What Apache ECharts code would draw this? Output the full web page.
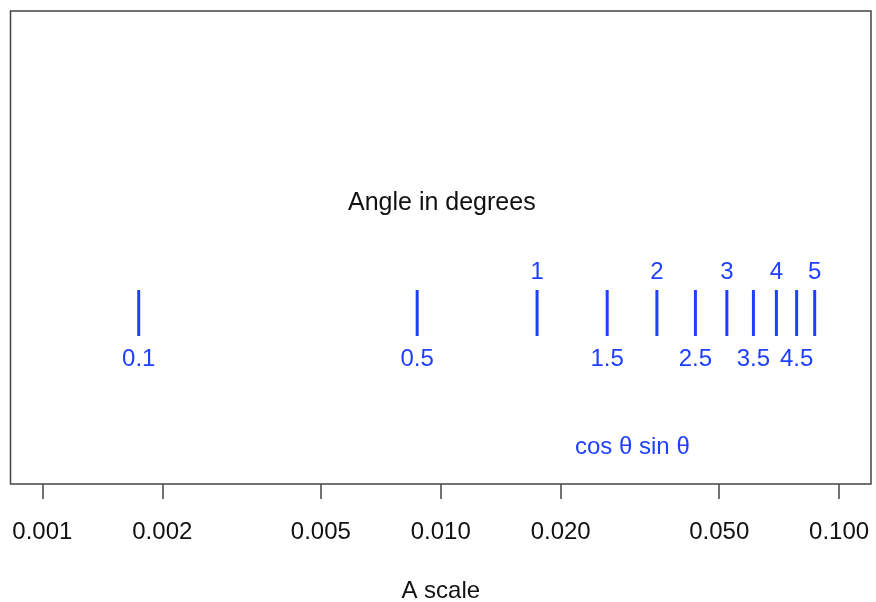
<!DOCTYPE html>
<html>
<head>
<meta charset="utf-8">
<script src="https://cdn.jsdelivr.net/npm/echarts@6/dist/echarts.min.js"></script>
<style>
html,body{margin:0;padding:0;background:#fff;}
#chart{width:876px;height:602px;}
</style>
</head>
<body>
<div id="chart"></div>
<script>
// Angles (degrees) and their A-scale values (cos θ sin θ)
const anglesUpper = ['1', '2', '3', '4', '5'];
const valuesUpper = [0.017450, 0.034878, 0.052264, 0.069587, 0.086824];
const anglesLower = ['0.1', '0.5', '1.5', '2.5', '3.5', '4.5'];
const valuesLower = [0.0017453, 0.0087262, 0.026168, 0.043578, 0.060935, 0.078217];
const tickValues = [0.001, 0.002, 0.005, 0.01, 0.02, 0.05, 0.1];
const tickLabels = ['0.001', '0.002', '0.005', '0.010', '0.020', '0.050', '0.100'];

const FONT = 'Liberation Sans, Arial, Helvetica, sans-serif';
const BLUE = '#1f3fff';
const MARK_Y = 0.3615;

const chart = echarts.init(document.getElementById('chart'), null, {renderer: 'canvas'});

function makeSeries(names, vals, pos) {
  return {
    type: 'scatter',
    symbol: 'rect',
    symbolSize: [3, 46],
    itemStyle: {color: BLUE, opacity: 1},
    silent: true,
    data: vals.map((v, i) => ({value: [v, MARK_Y], name: names[i]})),
    label: {
      show: true,
      position: pos,
      distance: pos === 'top' ? 6 : 11,
      formatter: p => p.name,
      color: BLUE,
      fontSize: 24,
      fontFamily: FONT
    }
  };
}

const option = {
  animation: false,
  backgroundColor: '#fff',
  grid: {
    left: 10.5, right: 5, top: 11, bottom: 118,
    outerBoundsMode: 'none',
    containLabel: false,
    show: true, borderColor: '#444', borderWidth: 1.5, backgroundColor: 'transparent'
  },
  xAxis: {
    type: 'log',
    logBase: 10,
    min: Math.pow(10, -3.08),
    max: Math.pow(10, -0.92),
    axisLine: {show: false},
    splitLine: {show: false},
    minorTick: {show: false},
    axisTick: {show: true, length: 15, customValues: tickValues, lineStyle: {color: '#444', width: 1.5}},
    axisLabel: {
      show: true,
      customValues: tickValues,
      margin: 36,
      fontSize: 24,
      fontFamily: FONT,
      color: '#111',
      formatter: v => {
        const i = tickValues.findIndex(t => Math.abs(t - v) / t < 1e-6);
        return i >= 0 ? tickLabels[i] : '';
      }
    },
    name: 'A scale',
    nameLocation: 'middle',
    nameGap: 95,
    nameTextStyle: {fontSize: 24, fontFamily: FONT, color: '#111'}
  },
  yAxis: {type: 'value', min: 0, max: 1, show: false},
  series: [
    makeSeries(anglesUpper, valuesUpper, 'top'),
    makeSeries(anglesLower, valuesLower, 'bottom')
  ],
  graphic: [
    {type: 'text', left: 348, top: 191, style: {text: 'Angle in degrees', fontSize: 25, fontFamily: FONT, fill: '#111'}},
    {type: 'text', left: 575, top: 435, style: {text: 'cos \u03B8 sin \u03B8', fontSize: 24, fontFamily: FONT, fill: BLUE}}
  ]
};
chart.setOption(option);
</script>
</body>
</html>
